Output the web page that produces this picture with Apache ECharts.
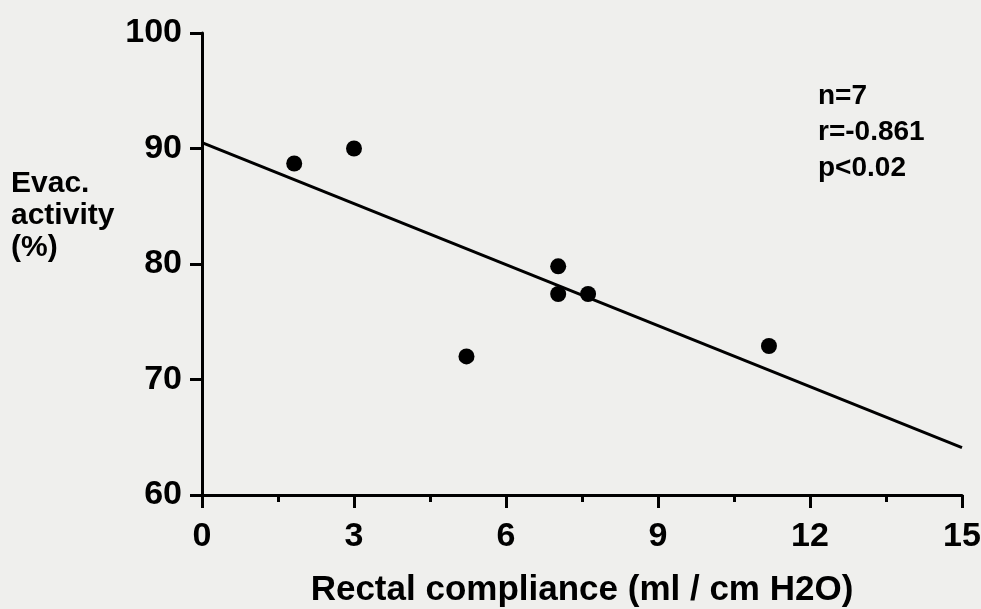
<!DOCTYPE html>
<html>
<head>
<meta charset="utf-8">
<script src="https://cdn.jsdelivr.net/npm/echarts@6/dist/echarts.min.js"></script>
<style>
html,body{margin:0;padding:0;background:#efefed;overflow:hidden;}
#chart{width:981px;height:609px;}
</style>
</head>
<body>
<div id="chart"></div>
<script>
// Data
const compliance = [1.82, 3.0, 7.03, 7.03, 7.62, 5.22, 11.19];
const evacActivity = [88.7, 90.0, 79.8, 77.4, 77.4, 72.0, 72.9];
const fitX = [0, 15];
const fitY = [90.5, 64.1];
const statsLines = ['n=7', 'r=-0.861', 'p<0.02'];
const xTitle = 'Rectal compliance (ml / cm H2O)';
const yTitleLines = ['Evac.', 'activity', '(%)'];

const FONT = '"Liberation Sans", Arial, Helvetica, sans-serif';
const chart = echarts.init(document.getElementById('chart'));
chart.setOption({
  backgroundColor: '#efefed',
  animation: false,
  grid: { left: 202, right: 19, top: 33, bottom: 114, containLabel: false, outerBoundsMode: 'none' },
  xAxis: {
    type: 'value', min: 0, max: 15, interval: 3,
    axisLine: { onZero: false, lineStyle: { color: '#000', width: 3 } },
    axisTick: { length: 13, lineStyle: { color: '#000', width: 3 } },
    minorTick: { show: true, splitNumber: 2, length: 7, lineStyle: { color: '#000', width: 3 } },
    splitLine: { show: false },
    axisLabel: { color: '#000', fontFamily: FONT, fontWeight: 'bold', fontSize: 34, margin: 25 },
    name: xTitle, nameLocation: 'middle', nameGap: 78,
    nameTextStyle: { color: '#000', fontFamily: FONT, fontWeight: 'bold', fontSize: 35 }
  },
  yAxis: {
    type: 'value', min: 60, max: 100, interval: 10,
    axisLine: { onZero: false, lineStyle: { color: '#000', width: 3 } },
    axisTick: { length: 12, lineStyle: { color: '#000', width: 3 } },
    splitLine: { show: false },
    axisLabel: { color: '#000', fontFamily: FONT, fontWeight: 'bold', fontSize: 34, margin: 20 }
  },
  graphic: [
    {
      type: 'text', left: 11, top: 168,
      style: { text: yTitleLines.join('\n'), fill: '#000', font: 'bold 30px ' + FONT, lineHeight: 32 }
    },
    {
      type: 'text', left: 818, top: 78,
      style: { text: statsLines.join('\n'), fill: '#000', font: 'bold 28px ' + FONT, lineHeight: 36 }
    }
  ],
  series: [
    {
      type: 'line',
      data: fitX.map((x, i) => [x, fitY[i]]),
      symbol: 'none',
      lineStyle: { color: '#000', width: 3 },
      z: 2
    },
    {
      type: 'scatter',
      data: compliance.map((x, i) => [x, evacActivity[i]]),
      symbol: 'circle',
      symbolSize: 16,
      itemStyle: { color: '#000', opacity: 1 },
      z: 3
    }
  ]
});
</script>
</body>
</html>
